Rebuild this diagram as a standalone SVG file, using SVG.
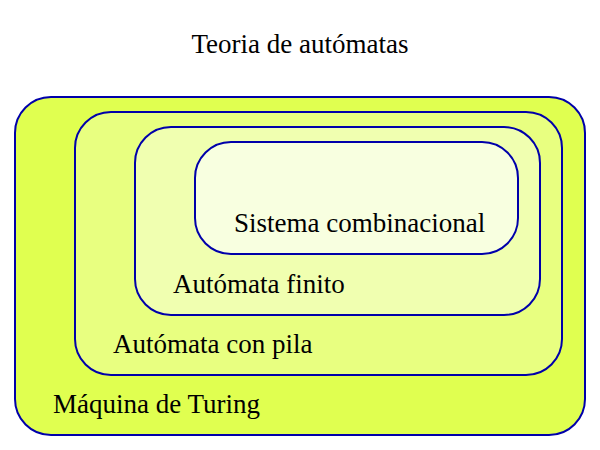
<svg xmlns="http://www.w3.org/2000/svg" width="600" height="450" viewBox="0 0 600 450">
<style>
.box{stroke:#0000aa;stroke-width:2}
text{font-family:"Liberation Serif","Times New Roman",serif;font-size:27px;fill:#000}
</style>
<rect width="600" height="450" fill="#fff"/>
<text x="300" y="53" text-anchor="middle">Teoria de autómatas</text>
<g id="turing">
<rect class="box" x="15" y="97" width="570" height="338" rx="36" fill="#e0ff50"/>
<text x="53" y="413">Máquina de Turing</text>
</g>
<g id="pila">
<rect class="box" x="75" y="112" width="487" height="263" rx="36" fill="#e8ff80"/>
<text x="113" y="353">Autómata con pila</text>
</g>
<g id="finito">
<rect class="box" x="135" y="127" width="405" height="188" rx="36" fill="#f0ffb0"/>
<text x="173" y="293">Autómata finito</text>
</g>
<g id="combinacional">
<rect class="box" x="195" y="142" width="323" height="112" rx="36" fill="#f8ffe0"/>
<text x="234" y="232">Sistema combinacional</text>
</g>
<g id="connectors"/>
</svg>
